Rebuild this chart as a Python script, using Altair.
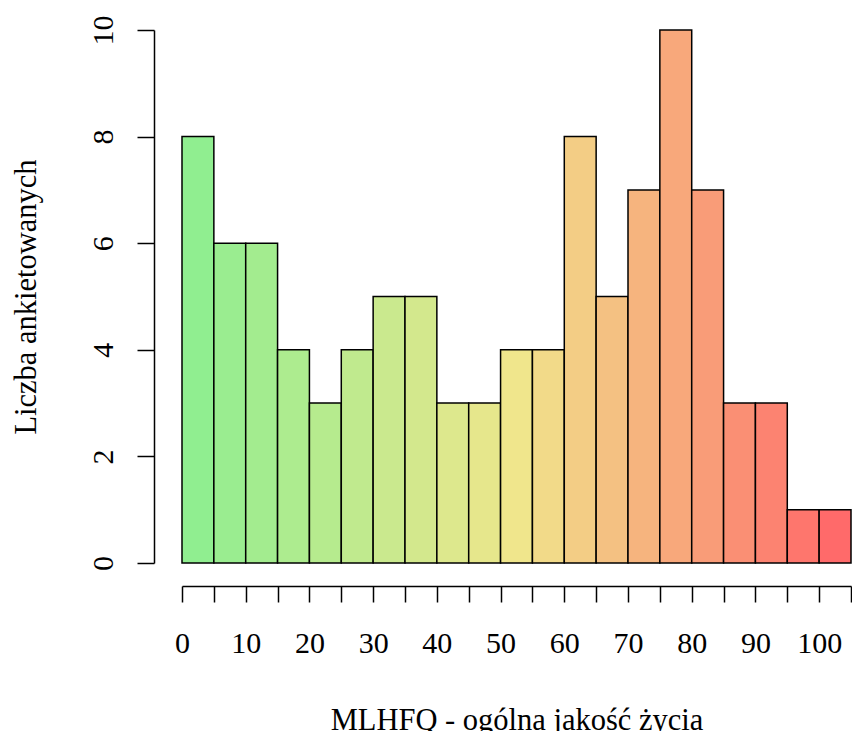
import altair as alt
import pandas as pd

bin_start = [0, 5, 10, 15, 20, 25, 30, 35, 40, 45, 50, 55, 60, 65, 70, 75, 80, 85, 90, 95, 100]
bin_end = [5, 10, 15, 20, 25, 30, 35, 40, 45, 50, 55, 60, 65, 70, 75, 80, 85, 90, 95, 100, 105]
counts = [8, 6, 6, 4, 3, 4, 5, 5, 3, 3, 4, 4, 8, 5, 7, 10, 7, 3, 3, 1, 1]
colors = ["#90EE90", "#9AED90", "#A3EC8F", "#ADEC8F", "#B6EB8E", "#C0EA8E", "#CAE98E",
          "#D3E88D", "#DDE88D", "#E6E78C", "#F0E68C", "#F2DA89", "#F3CD85", "#F4C182",
          "#F6B47E", "#F8A87B", "#F99C78", "#FA8F74", "#FC8371", "#FE766D", "#FF6A6A"]
x_ticks = [0, 5, 10, 15, 20, 25, 30, 35, 40, 45, 50, 55, 60, 65, 70, 75, 80, 85, 90, 95, 100, 105]
y_ticks = [0, 2, 4, 6, 8, 10]

df = pd.DataFrame({"start": bin_start, "end": bin_end, "count": counts,
                   "zero": [0] * len(counts),
                   "bin": [str(b) for b in bin_start]})

FONT = "Liberation Serif"
LFS = 30
TFS = 30.5

chart = alt.Chart(df).mark_rect(stroke="black", strokeWidth=1.5, opacity=1).encode(
    x=alt.X("start:Q",
            scale=alt.Scale(domain=[0, 105], nice=False, zero=False),
            axis=alt.Axis(values=x_ticks, offset=23, tickSize=16, tickWidth=1.5,
                          domainWidth=1.5, domainColor="black", tickColor="black",
                          labelExpr="datum.value % 10 === 0 ? datum.label : ''",
                          labelFont=FONT, labelFontSize=LFS, labelColor="black",
                          labelBaseline="alphabetic", labelPadding=50,
                          labelFlush=False, labelOverlap=False, grid=False,
                          title="MLHFQ - ogólna jakość życia",
                          titleFont=FONT, titleFontSize=TFS, titleFontWeight="normal",
                          titleColor="black", titleBaseline="alphabetic",
                          titleX=334.5, titleY=143, titleAnchor="middle")),
    x2="end:Q",
    y=alt.Y("count:Q",
            scale=alt.Scale(domain=[0, 10], nice=False),
            axis=alt.Axis(values=y_ticks, offset=28, tickSize=17, tickWidth=1.5,
                          domainWidth=1.5, domainColor="black", tickColor="black",
                          labelFont=FONT, labelFontSize=LFS, labelColor="black",
                          labelAngle=270, labelAlign="center", labelBaseline="alphabetic",
                          labelPadding=25, labelOverlap=False, labelFlush=False, grid=False,
                          title="Liczba ankietowanych",
                          titleFont=FONT, titleFontSize=TFS, titleFontWeight="normal",
                          titleColor="black", titleAngle=270, titleBaseline="alphabetic",
                          titleAlign="center", titleX=-119, titleY=266.5)),
    y2="zero:Q",
    color=alt.Color("bin:N", scale=alt.Scale(domain=[str(b) for b in bin_start], range=colors),
                    legend=None),
).properties(
    width=669, height=533,
    autosize=alt.AutoSizeParams(type="none"),
    padding={"left": 182, "top": 30, "right": 1, "bottom": 168},
    background="white",
).configure_view(stroke=None)

chart.save("out.html", embed_options={"renderer": "svg", "actions": False})
